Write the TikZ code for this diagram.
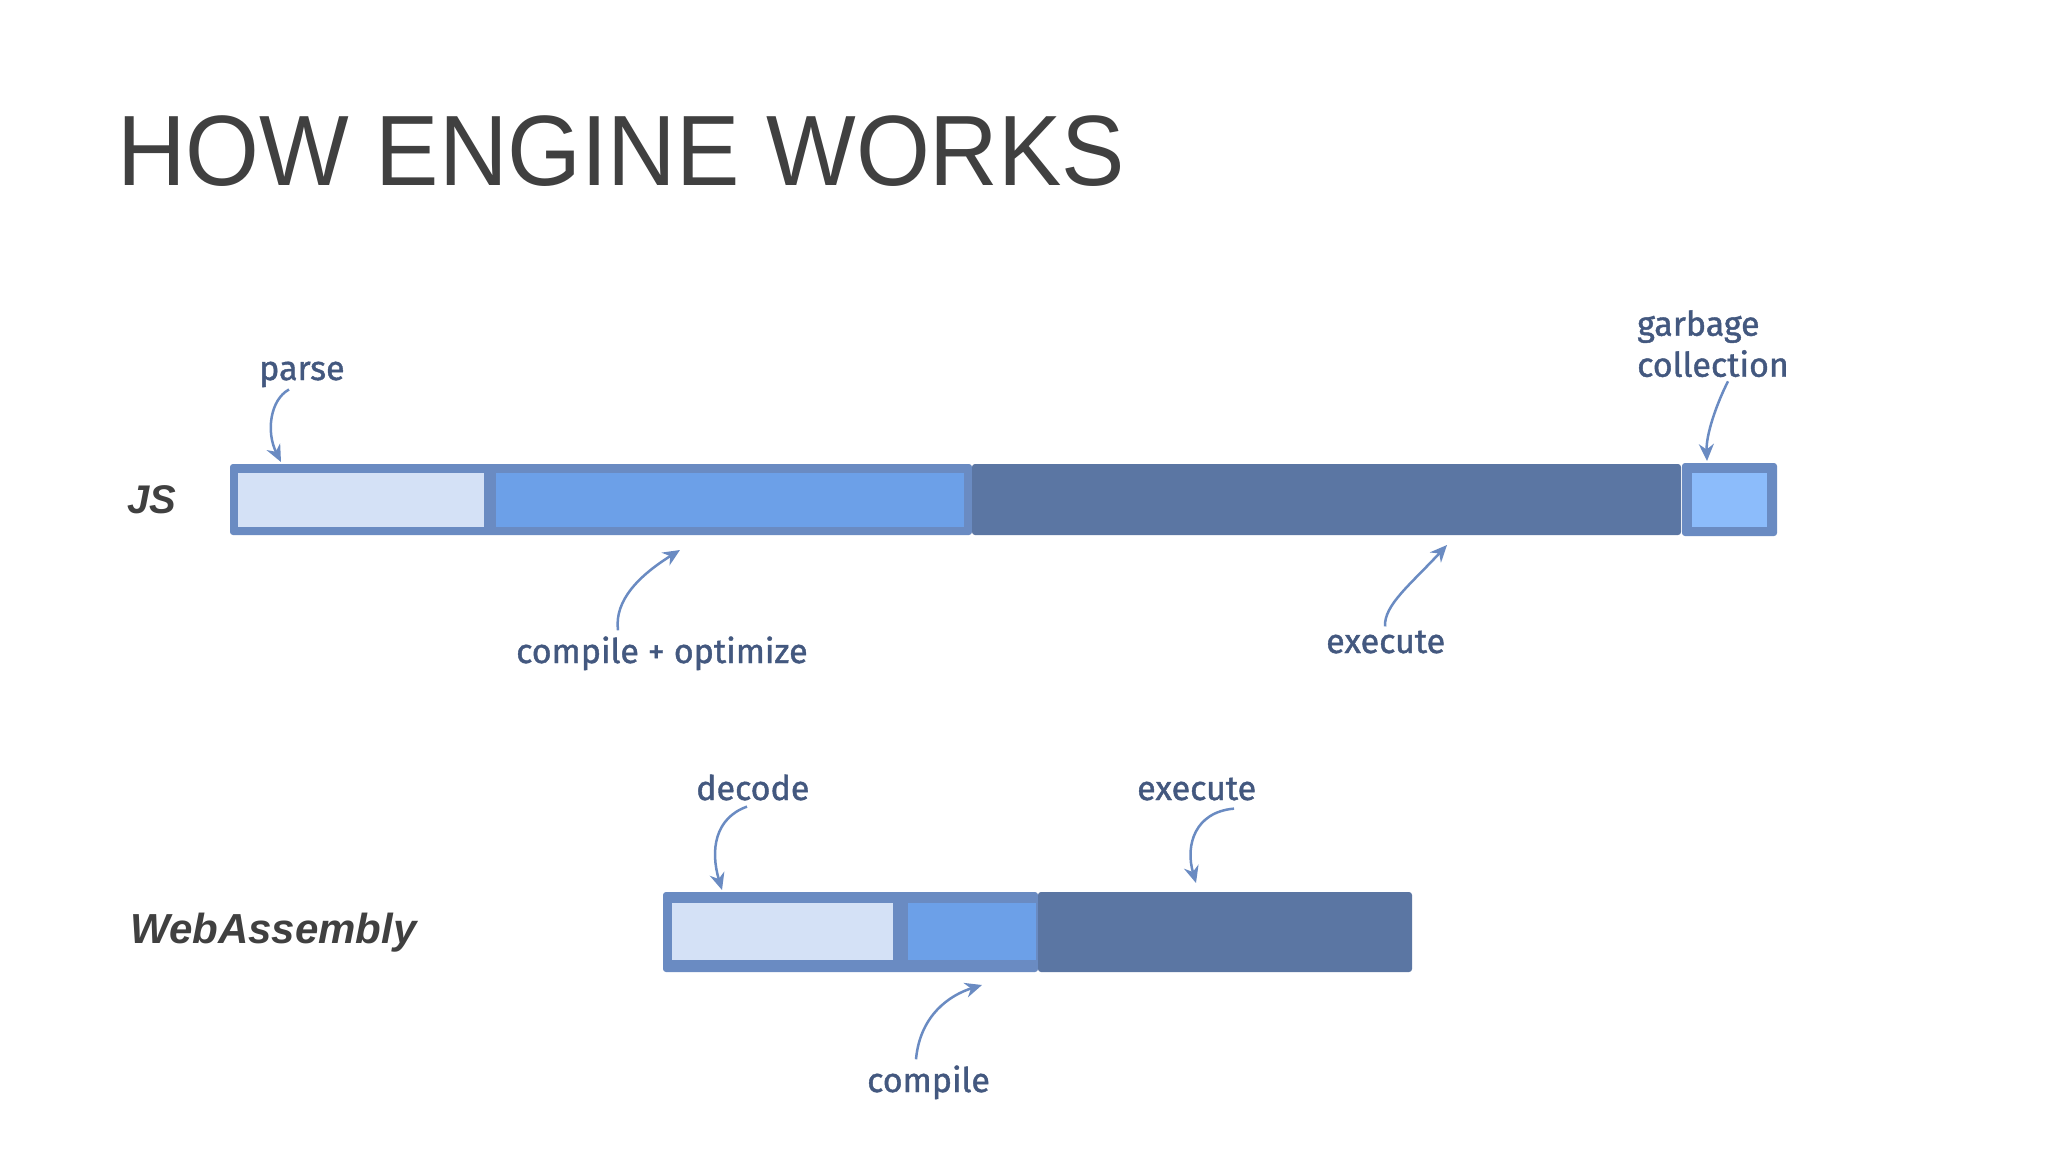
\documentclass[tikz,border=0pt]{standalone}
\usepackage{fontspec}
\usetikzlibrary{arrows.meta}
\newfontfamily\titlefont{Liberation Sans}
\newfontfamily\handfont[FakeBold=1.2]{Fira Sans}
\definecolor{bordc}{HTML}{6A8BC2}
\definecolor{darkc}{HTML}{5B76A3}
\definecolor{compc}{HTML}{6CA0E8}
\definecolor{lightc}{HTML}{D4E1F6}
\definecolor{gcc}{HTML}{8CBCFB}
\definecolor{labc}{HTML}{43587F}
\definecolor{titc}{HTML}{404040}
\begin{document}
\begin{tikzpicture}[x=1pt,y=-1pt,
  seg/.style={draw=none,inner sep=0,outer sep=0,anchor=north west},
  frame/.style={seg,fill=bordc,rounded corners=3pt},
  lab/.style={inner sep=0,text=labc,font=\handfont\fontsize{34}{41}\selectfont},
  rowlab/.style={inner sep=0,anchor=base west,text=titc},
  arr/.style={draw=bordc,line width=2.5pt,-{Stealth[length=17pt,width=15pt]}}]
\useasboundingbox[fill=white] (0,0) rectangle (2048,1152);

% title
\node[inner sep=0,anchor=base west,text=titc,font=\titlefont\fontsize{100}{110}\selectfont] (title) at (117,185) {\scalebox{0.95}[1]{HOW ENGINE WORKS}};

% row labels
\node[rowlab,font=\titlefont\bfseries\itshape\fontsize{40}{48}\selectfont] (jslab) at (127,513) {JS};
\node[rowlab,font=\titlefont\bfseries\itshape\fontsize{42}{50}\selectfont] (walab) at (130,943) {WebAssembly};

% JS bar
\node[frame,minimum width=742,minimum height=71] (jsframe) at (230,464) {};
\node[seg,fill=lightc,minimum width=246,minimum height=54] (jsparse) at (238,473) {};
\node[seg,fill=compc,minimum width=468,minimum height=54] (jscomp) at (496,473) {};
\node[seg,fill=darkc,rounded corners=3pt,minimum width=709,minimum height=71] (jsexec) at (972,464) {};
\node[frame,minimum width=95,minimum height=73] (gcframe) at (1682,463) {};
\node[seg,fill=gcc,minimum width=75,minimum height=54] (jsgc) at (1692,473) {};

% WebAssembly bar
\node[frame,minimum width=375,minimum height=80] (wframe) at (663,892) {};
\node[seg,fill=lightc,minimum width=221,minimum height=57] (wdec) at (672,903) {};
\node[seg,fill=compc,minimum width=128,minimum height=57] (wcomp) at (908,903) {};
\node[seg,fill=darkc,rounded corners=3pt,minimum width=374,minimum height=80] (wexec) at (1038,892) {};

% labels
\node[lab,anchor=base west] (lparse) at (259,380) {parse};
\node[lab,anchor=base west] (lcomp) at (516,663) {compile + optimize};
\node[lab,anchor=base west] (lexec) at (1326,653) {execute};
\node[lab,anchor=north west,align=left] (lgc) at (1637,310) {garbage\\collection};
\node[lab,anchor=base west] (ldec) at (696,800) {decode};
\node[lab,anchor=base west] (lwexec) at (1137,800) {execute};
\node[lab,anchor=base west] (lwcomp) at (867,1092) {compile};

% arrow end points on the bars
\coordinate (pparse) at (281,462);
\coordinate (pcomp) at (680,550);
\coordinate (pexec) at (1447,545);
\coordinate (pgc) at (1707,461);
\coordinate (pdec) at (722,890);
\coordinate (pwexec) at (1196,883);
\coordinate (pwcomp) at (982,985);

% arrows
\draw[arr] ([xshift=30pt,yshift=-2pt]lparse.south west) .. controls (270,400) and (266,432) .. (pparse);
\draw[arr] ([xshift=102pt,yshift=6pt]lcomp.north west) .. controls (614,600) and (640,575) .. (pcomp);
\draw[arr] ([xshift=59pt,yshift=4pt]lexec.north west) .. controls (1384,605) and (1410,585) .. (pexec);
\draw[arr] ([xshift=91pt,yshift=-4pt]lgc.south west) .. controls (1716,405) and (1706,435) .. (pgc);
\draw[arr] ([xshift=51pt,yshift=-6pt]ldec.south west) .. controls (715,818) and (710,850) .. (pdec);
\draw[arr] ([xshift=97pt,yshift=-8pt]lwexec.south west) .. controls (1195,812) and (1185,845) .. (pwexec);
\draw[arr] ([xshift=49pt,yshift=6pt]lwcomp.north west) .. controls (920,1015) and (950,995) .. (pwcomp);
\end{tikzpicture}
\end{document}
